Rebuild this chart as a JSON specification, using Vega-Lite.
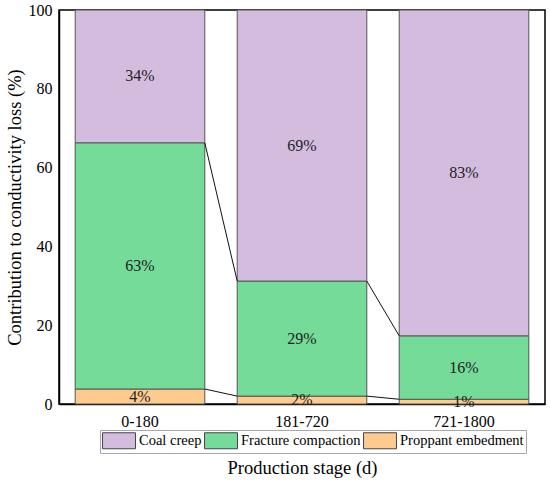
{
  "$schema": "https://vega.github.io/schema/vega-lite/v6.json",
  "width": 486,
  "height": 394,
  "autosize": {"type": "none"},
  "padding": {"left": 59, "top": 10, "right": 5, "bottom": 80},
  "background": "white",
  "config": {
    "view": {"stroke": "black", "strokeWidth": 1.5},
    "font": "Liberation Serif",
    "text": {"font": "Liberation Serif"},
    "axis": {
      "grid": false,
      "ticks": false,
      "tickSize": 0,
      "domainColor": "black",
      "domainWidth": 1.5,
      "labelColor": "black",
      "titleColor": "black",
      "labelFont": "Liberation Serif",
      "titleFont": "Liberation Serif",
      "labelFontSize": 16,
      "titleFontSize": 18.5,
      "titleFontWeight": "normal"
    }
  },
  "datasets": {
    "parts": [
      {"stage": "0-180", "component": "Proppant embedment", "value": 3.8, "label": "4%"},
      {"stage": "0-180", "component": "Fracture compaction", "value": 62.5, "label": "63%"},
      {"stage": "0-180", "component": "Coal creep", "value": 33.7, "label": "34%"},
      {"stage": "181-720", "component": "Proppant embedment", "value": 2.0, "label": "2%"},
      {"stage": "181-720", "component": "Fracture compaction", "value": 29.2, "label": "29%"},
      {"stage": "181-720", "component": "Coal creep", "value": 68.8, "label": "69%"},
      {"stage": "721-1800", "component": "Proppant embedment", "value": 1.2, "label": "1%"},
      {"stage": "721-1800", "component": "Fracture compaction", "value": 16.1, "label": "16%"},
      {"stage": "721-1800", "component": "Coal creep", "value": 82.7, "label": "83%"}
    ],
    "links": [
      {"from": "0-180", "to": "181-720", "start": 66.3, "end": 31.2},
      {"from": "0-180", "to": "181-720", "start": 3.8, "end": 2.0},
      {"from": "181-720", "to": "721-1800", "start": 31.2, "end": 17.3},
      {"from": "181-720", "to": "721-1800", "start": 2.0, "end": 1.2}
    ]
  },
  "layer": [
    {
      "data": {"name": "parts"},
      "transform": [
        {"stack": "value", "groupby": ["stage"], "sort": [{"field": "component", "order": "descending"}], "as": ["y0", "y1"]}
      ],
      "mark": {"type": "bar", "stroke": "#555555", "strokeWidth": 1},
      "encoding": {
        "x": {
          "field": "stage",
          "type": "nominal",
          "title": "Production stage (d)",
          "scale": {"domain": ["0-180", "181-720", "721-1800"], "paddingInner": 0.2, "paddingOuter": 0.1},
          "axis": {"labelAngle": 0, "labelPadding": 9, "titlePadding": 29}
        },
        "y": {
          "field": "y0",
          "type": "quantitative",
          "title": "Contribution to conductivity loss (%)",
          "scale": {"domain": [0, 100], "nice": false},
          "axis": {"values": [0, 20, 40, 60, 80, 100], "labelPadding": 7, "titlePadding": 4}
        },
        "y2": {"field": "y1"},
        "color": {
          "field": "component",
          "type": "nominal",
          "scale": {
            "domain": ["Coal creep", "Fracture compaction", "Proppant embedment"],
            "range": ["#d4bcdf", "#74db98", "#fecb8e"]
          },
          "legend": {
            "orient": "none",
            "legendX": 41,
            "legendY": 420,
            "direction": "horizontal",
            "columns": 3,
            "title": null,
            "symbolType": "M-2.06,-1H2.06V1H-2.06Z",
            "symbolSize": 256,
            "symbolOffset": 8.5,
            "labelOffset": 11.5,
            "columnPadding": 0,
            "padding": 2,
            "strokeColor": "#a8a8a8",
            "fillColor": "white",
            "symbolStrokeColor": "#444444",
            "symbolStrokeWidth": 1,
            "symbolOpacity": 1,
            "labelFont": "Liberation Serif",
            "labelFontSize": 14.5,
            "labelColor": "black"
          }
        }
      }
    },
    {
      "data": {"name": "parts"},
      "transform": [
        {"stack": "value", "groupby": ["stage"], "sort": [{"field": "component", "order": "descending"}], "as": ["y0", "y1"]},
        {"calculate": "(datum.y0 + datum.y1) / 2", "as": "mid"}
      ],
      "mark": {"type": "text", "fontSize": 16, "color": "#222222", "baseline": "middle"},
      "encoding": {
        "x": {"field": "stage", "type": "nominal", "title": "Production stage (d)"},
        "y": {"field": "mid", "type": "quantitative", "title": "Contribution to conductivity loss (%)"},
        "text": {"field": "label"}
      }
    },
    {
      "data": {"name": "links"},
      "mark": {"type": "rule", "color": "#111111", "strokeWidth": 1},
      "encoding": {
        "x": {"field": "from", "type": "nominal", "bandPosition": 1, "title": "Production stage (d)"},
        "x2": {"field": "to", "bandPosition": 0},
        "y": {"field": "start", "type": "quantitative", "title": "Contribution to conductivity loss (%)"},
        "y2": {"field": "end"}
      }
    }
  ]
}
